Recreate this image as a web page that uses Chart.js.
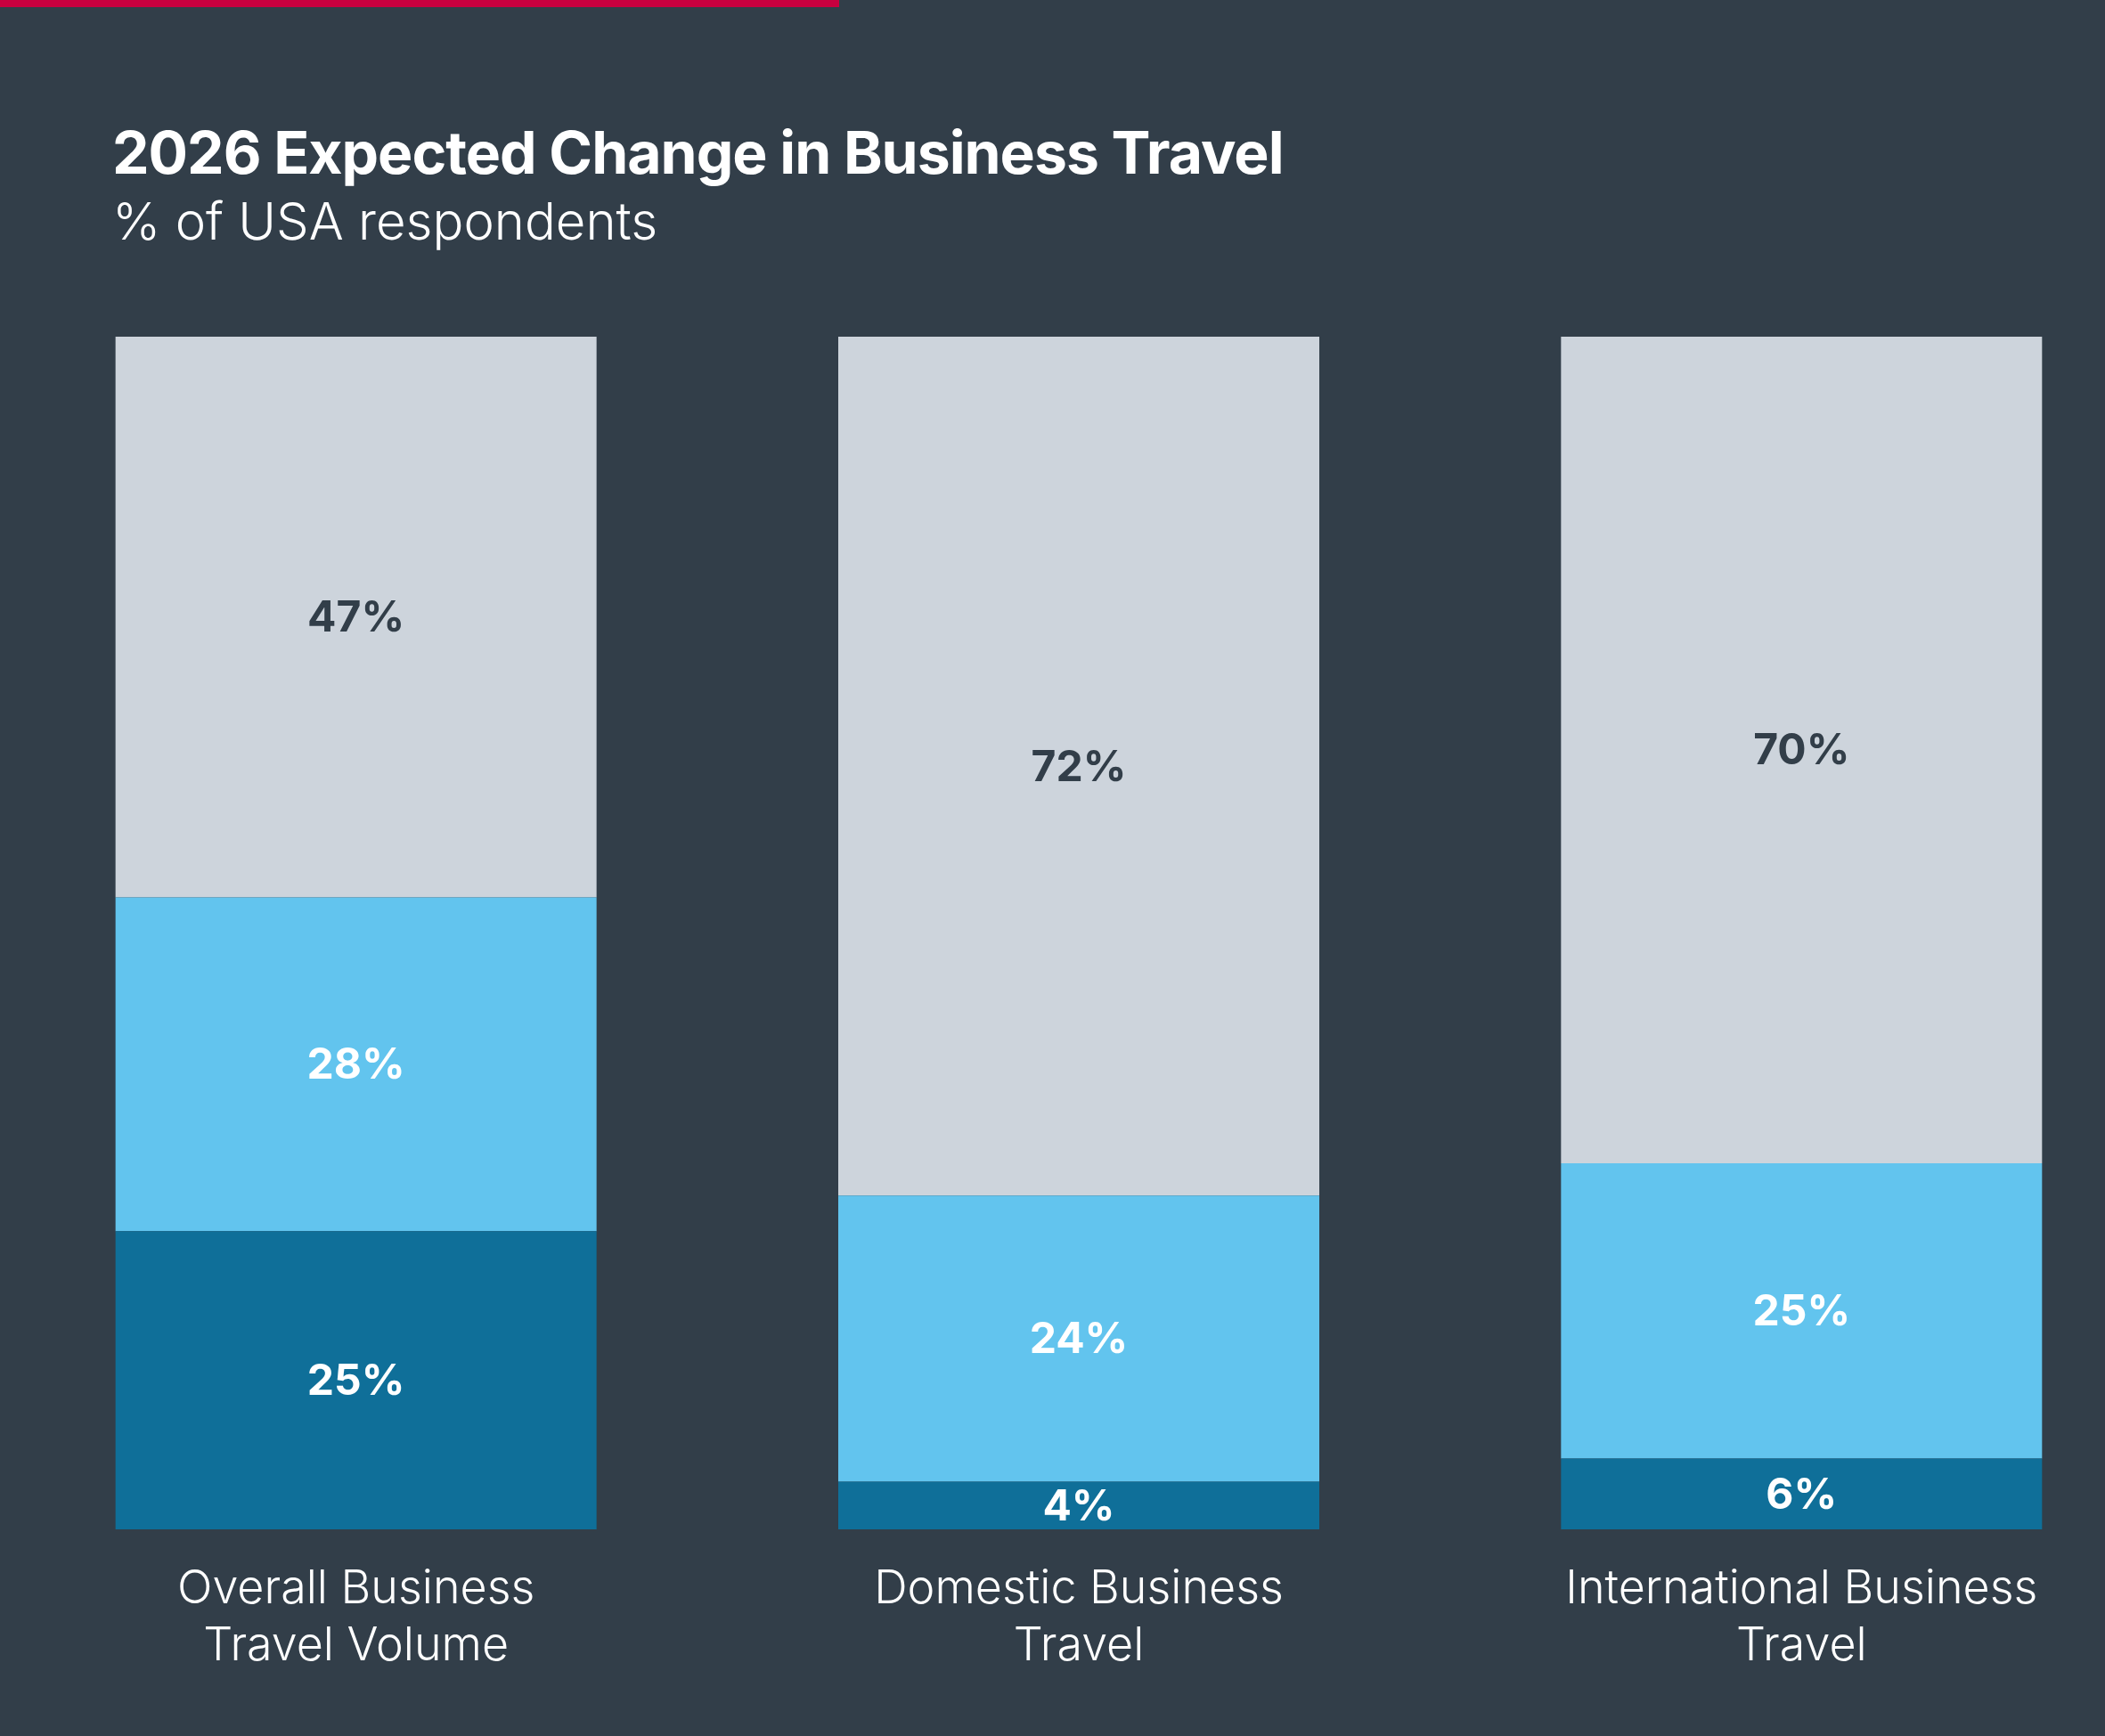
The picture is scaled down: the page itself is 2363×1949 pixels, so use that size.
<!DOCTYPE html>
<html>
<head>
<meta charset="utf-8">
<script src="https://cdn.jsdelivr.net/npm/chart.js@4/dist/chart.umd.min.js"></script>
<style>
  html, body { margin: 0; padding: 0; }
  body {
    width: 2363px; height: 1949px; overflow: hidden; position: relative;
    background: #323e49; font-family: Inter, "Noto Sans", sans-serif;
  }
  #topline { position: absolute; left: 0; top: 0; width: 942px; height: 8px; background: #c8003f; }
  #title {
    position: absolute; left: 126px; top: 138px; margin: 0;
    font-size: 66px; font-weight: 700; color: #fff; letter-spacing: -1px; line-height: 1;
  }
  #subtitle {
    position: absolute; left: 126px; top: 219px; margin: 0;
    font-size: 58px; font-weight: 300; color: #fff; line-height: 1;
  }
  #wrap { position: absolute; left: -6px; top: 378px; }
</style>
</head>
<body>
<div id="topline"></div>
<h1 id="title">2026 Expected Change in Business Travel</h1>
<div id="subtitle">% of USA respondents</div>
<div id="wrap"><canvas id="chart" width="2434" height="1571"></canvas></div>
<script>
"use strict";

// data
const categories = [
  ['Overall Business', 'Travel Volume'],
  ['Domestic Business', 'Travel'],
  ['International Business', 'Travel']
];
const bottomValues = [25, 4, 6];
const middleValues = [28, 24, 25];
const topValues = [47, 72, 70];

const colors = ['#0f6f99', '#62c4ee', '#cdd4dc'];
const labelColors = ['#ffffff', '#ffffff', '#323e49'];

//bars are drawn as share of the total so every column ends at 100
function asShare(values, i) {
  const total = bottomValues[i] + middleValues[i] + topValues[i];
  return values[i] / total * 100;
}

function makeDataset(values, n) {
  return {
    data: values.map((v, i) => asShare(values, i)),
    raw: values,
    backgroundColor: colors[n],
    borderWidth: 0,
    barPercentage: 1,
    categoryPercentage: 540 / 811.33,
    labelColor: labelColors[n]
  };
}

const segmentLabels = {
  id: 'segmentLabels',
  afterDatasetsDraw(chart) {
    const ctx = chart.ctx;
    ctx.save();
    ctx.font = '700 48px Inter';
    ctx.textAlign = 'center';
    ctx.textBaseline = 'middle';
    chart.data.datasets.forEach((ds, d) => {
      chart.getDatasetMeta(d).data.forEach((bar, i) => {
        const p = bar.getProps(['x', 'y', 'base'], true);
        ctx.fillStyle = ds.labelColor;
        ctx.fillText(ds.raw[i] + '%', p.x, (p.y + p.base) / 2 + 2);
      });
    });
    ctx.restore();
  }
};

new Chart(document.getElementById('chart'), {
  type: 'bar',
  data: {
    labels: categories,
    datasets: [
      makeDataset(bottomValues, 0),
      makeDataset(middleValues, 1),
      makeDataset(topValues, 2)
    ]
  },
  options: {
    responsive: false,
    animation: false,
    layout: { padding: { top: 0, bottom: 33, left: 0, right: 0 } },
    plugins: { legend: { display: false }, tooltip: { enabled: false } },
    scales: {
      x: {
        stacked: true,
        border: { display: false },
        grid: { display: false, drawTicks: false, tickLength: 0 },
        ticks: {
          color: '#ffffff',
          padding: 36,
          font: { family: 'Inter', size: 52, weight: 300, lineHeight: 1.22 }
        }
      },
      y: {
        stacked: true,
        display: false,
        min: 0,
        max: 100
      }
    }
  },
  plugins: [segmentLabels]
});
</script>
</body>
</html>
